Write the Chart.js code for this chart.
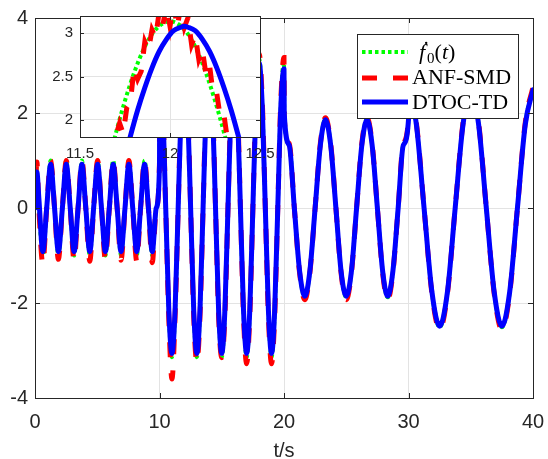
<!DOCTYPE html>
<html><head><meta charset="utf-8">
<script src="https://cdn.jsdelivr.net/npm/chart.js@4/dist/chart.umd.min.js"></script>
<style>
html,body{margin:0;padding:0;background:#fff;}
#wrap{position:relative;width:548px;height:459px;overflow:hidden;background:#fff;}
canvas{position:absolute;left:0;top:0;}
</style></head><body>
<div id="wrap"><canvas id="main" width="548" height="459"></canvas><canvas id="inset" width="548" height="459"></canvas></div>
<script>
// ---------- data ----------
const time = [
  0, 0.15, 0.31, 0.63, 0.94, 1.26, 1.57, 1.88, 2.20, 2.51, 2.83, 3.14, 3.46, 3.77, 4.08, 4.40, 4.71, 5.03, 5.34, 5.65, 5.97, 6.28, 6.60, 6.91, 7.23, 7.54, 7.85, 8.17, 8.48, 8.80, 9.11, 9.42, 9.74, 10.00,
  10.02, 10.25, 10.5, 10.75, 11, 11.25, 11.5, 11.75, 12, 12.25, 12.5, 12.75, 13, 13.25, 13.5, 13.75, 14, 14.25, 14.5, 14.75, 15, 15.25, 15.5, 15.75, 16, 16.25, 16.5, 16.75, 17, 17.25, 17.5, 17.75, 18, 18.25, 18.5, 18.75, 19, 19.25, 19.5, 19.75, 20,
  20.02, 20.42, 20.83, 21.25, 21.67, 22.08, 22.5, 22.92, 23.33, 23.75, 24.17, 24.58, 25.0, 25.42, 25.83, 26.25, 26.67, 27.08, 27.5, 27.92, 28.33, 28.75, 29.17, 29.58, 30.0,
  30.02, 30.63, 31.25, 31.88, 32.5, 33.13, 33.75, 34.38, 35.0, 35.63, 36.25, 36.88, 37.5, 38.13, 38.75, 39.38, 40.0
];
const f0Dot = [
  1, 0.73, 0, -1, 0, 1, 0, -1, 0, 1, 0, -1, 0, 1, 0, -1, 0, 1, 0, -1, 0, 1, 0, -1, 0, 1, 0, -1, 0, 1, 0, -1, 0, 0.96,
  3.13, 2.22, 0, -2.22, -3.14, -2.22, 0, 2.22, 3.14, 2.22, 0, -2.22, -3.14, -2.22, 0, 2.22, 3.14, 2.22, 0, -2.22, -3.14, -2.22, 0, 2.22, 3.14, 2.22, 0, -2.22, -3.14, -2.22, 0, 2.22, 3.14, 2.22, 0, -2.22, -3.14, -2.22, 0, 2.22, 3.14,
  1.88, 1.33, 0, -1.33, -1.88, -1.33, 0, 1.33, 1.88, 1.33, 0, -1.33, -1.88, -1.33, 0, 1.33, 1.88, 1.33, 0, -1.33, -1.88, -1.33, 0, 1.33, 1.88,
  2.51, 1.77, 0, -1.77, -2.51, -1.77, 0, 1.77, 2.51, 1.77, 0, -1.77, -2.51, -1.77, 0, 1.77, 2.51
];
const anfSmd = [
  0.1, 0.97, 0, -1.18, 0, 1.0, 0, -1.08, 0, 1.0, 0, -1.1, 0, 1.0, 0, -1.12, 0, 1.0, 0, -1.08, 0, 1.0, 0, -1.1, 0, 1.0, 0, -1.12, 0, 1.0, 0, -1.15, 0, 0.97,
  3.2, 2.3, 0, -2.35, -3.6, -2.3, 0, 2.3, 3.25, 2.3, 0, -2.3, -3.25, -2.3, 0, 2.3, 3.25, 2.3, 0, -2.3, -3.15, -2.3, 0, 2.3, 3.25, 2.3, 0, -2.3, -3.28, -2.3, 0, 2.3, 3.25, 2.3, 0, -2.3, -3.28, -2.3, 0, 2.3, 3.17,
  1.9, 1.36, 0, -1.36, -1.93, -1.36, 0, 1.36, 1.9, 1.36, 0, -1.36, -1.93, -1.36, 0, 1.36, 1.9, 1.36, 0, -1.36, -1.93, -1.36, 0, 1.36, 1.9,
  2.55, 1.8, 0, -1.8, -2.56, -1.8, 0, 1.8, 2.55, 1.8, 0, -1.8, -2.56, -1.8, 0, 1.8, 2.55
];
const dtocTd = [
  0, 0.76, 0.2, -0.92, 0, 0.92, 0, -0.92, 0, 0.92, 0, -0.92, 0, 0.92, 0, -0.92, 0, 0.92, 0, -0.92, 0, 0.92, 0, -0.92, 0, 0.92, 0, -0.92, 0, 0.92, 0, -0.92, 0, 0.9,
  2.9, 2.16, 0, -2.16, -3.06, -2.16, 0, 2.16, 3.06, 2.16, 0, -2.16, -3.06, -2.16, 0, 2.16, 3.06, 2.16, 0, -2.16, -3.06, -2.16, 0, 2.16, 3.06, 2.16, 0, -2.16, -3.06, -2.16, 0, 2.16, 3.06, 2.16, 0, -2.16, -3.06, -2.16, 0, 2.16, 2.93,
  2.0, 1.32, 0, -1.32, -1.86, -1.32, 0, 1.32, 1.86, 1.32, 0, -1.32, -1.86, -1.32, 0, 1.32, 1.86, 1.32, 0, -1.32, -1.86, -1.32, 0, 1.32, 1.86,
  2.49, 1.76, 0, -1.76, -2.49, -1.76, 0, 1.76, 2.49, 1.76, 0, -1.76, -2.49, -1.76, 0, 1.76, 2.49
];
const xTicks = [0, 10, 20, 30, 40];
const yTicks = [-4, -2, 0, 2, 4];
const xTitle = 't/s';
const legendNames = ['ANF-SMD', 'DTOC-TD'];

// zoomed inset (11.5 s .. 12.5 s)
const insetTimeF0 = [11.60, 11.65, 11.70, 11.75, 11.80, 11.85, 11.90, 11.95, 12.00, 12.05, 12.10, 12.15, 12.20, 12.25, 12.30, 12.35, 12.40];
const insetF0 = [0.97, 1.43, 1.85, 2.22, 2.54, 2.80, 2.99, 3.10, 3.14, 3.10, 2.99, 2.80, 2.54, 2.22, 1.85, 1.43, 0.97];
const insetTimeAnf = [11.60, 11.62, 11.64, 11.66, 11.68, 11.70, 11.72, 11.74, 11.76, 11.78, 11.80, 11.82, 11.84, 11.86, 11.88, 11.90, 11.92, 11.94, 11.96, 11.98, 12.00, 12.02, 12.04, 12.06, 12.08, 12.10, 12.12, 12.14, 12.16, 12.18, 12.20, 12.22, 12.24, 12.26, 12.28, 12.30, 12.32, 12.34, 12.36, 12.38, 12.40];
const insetAnf = [0.93, 0.92, 1.32, 1.30, 1.66, 1.82, 1.96, 1.84, 2.14, 2.20, 2.60, 2.47, 2.56, 2.90, 2.80, 3.04, 2.95, 3.25, 3.09, 3.32, 3.08, 3.34, 3.07, 3.31, 3.07, 3.18, 2.87, 2.98, 2.70, 2.81, 2.52, 2.63, 2.29, 2.30, 2.02, 2.05, 1.76, 1.75, 1.49, 1.31, 1.14];
const insetTimeDtoc = [11.70, 11.74, 11.78, 11.82, 11.86, 11.90, 11.94, 11.98, 12.02, 12.06, 12.08, 12.10, 12.14, 12.18, 12.22, 12.26, 12.30, 12.34, 12.38, 12.42, 12.46];
const insetDtoc = [1.13, 1.48, 1.81, 2.11, 2.37, 2.60, 2.79, 2.93, 3.03, 3.07, 3.08, 3.07, 3.03, 2.93, 2.79, 2.60, 2.37, 2.11, 1.81, 1.48, 1.13];
const insetXTicks = [11.5, 12, 12.5];
const insetYTicks = [2, 2.5, 3];

// ---------- styles ----------
const GREEN = '#00ff00', RED = '#ff0000', BLUE = '#0000ff';
const AX = '#262626', GRID = '#e3e3e3';
const SANS = '"Liberation Sans", Arial, Helvetica, sans-serif';
const SERIF = '"Liberation Serif", "DejaVu Serif", "Times New Roman", serif';
Chart.defaults.font.family = SANS;
Chart.defaults.color = AX;

const pts = (xs, ys) => xs.map((x, i) => ({x, y: ys[i]}));
const styleGreen = {borderColor: GREEN, borderWidth: 4, borderDash: [3.5, 3], borderCapStyle: 'butt'};
const styleRed = {borderColor: RED, borderWidth: 5, borderDash: [15, 16], borderCapStyle: 'butt'};
const styleBlue = {borderColor: BLUE, borderWidth: 5, borderCapStyle: 'round', borderJoinStyle: 'round'};

function frame(chart, xt, yt, len) {
  const {ctx, chartArea: a, scales: {x, y}} = chart;
  ctx.save();
  ctx.strokeStyle = AX; ctx.lineWidth = 1; ctx.setLineDash([]);
  ctx.beginPath();
  xt.forEach(v => { const p = Math.round(x.getPixelForValue(v)) + 0.5;
    ctx.moveTo(p, a.bottom); ctx.lineTo(p, a.bottom - len); ctx.moveTo(p, a.top); ctx.lineTo(p, a.top + len); });
  yt.forEach(v => { const p = Math.round(y.getPixelForValue(v)) + 0.5;
    ctx.moveTo(a.left, p); ctx.lineTo(a.left + len, p); ctx.moveTo(a.right, p); ctx.lineTo(a.right - len, p); });
  ctx.stroke();
  ctx.strokeRect(Math.round(a.left) + 0.5, Math.round(a.top) + 0.5, Math.round(a.right - a.left), Math.round(a.bottom - a.top));
  ctx.restore();
}

const mainDecor = {
  id: 'mainDecor',
  afterDatasetsDraw(chart) {
    frame(chart, xTicks, yTicks, 5);
    const ctx = chart.ctx;
    const bx = 357.5, by = 34.5, bw = 161, bh = 84;
    ctx.save();
    ctx.fillStyle = '#fff'; ctx.fillRect(bx, by, bw, bh);
    ctx.strokeStyle = AX; ctx.lineWidth = 1; ctx.strokeRect(bx, by, bw, bh);
    const rows = [52, 78, 102], bases = [59, 84, 108.5];
    [styleGreen, styleRed, styleBlue].forEach((s, i) => {
      ctx.beginPath();
      ctx.setLineDash(s.borderDash || []);
      ctx.lineWidth = s.borderWidth; ctx.strokeStyle = s.borderColor; ctx.lineCap = 'butt';
      ctx.moveTo(362, rows[i]); ctx.lineTo(408, rows[i]); ctx.stroke();
    });
    ctx.setLineDash([]);
    ctx.fillStyle = '#000'; ctx.textBaseline = 'alphabetic'; ctx.textAlign = 'left';
    // f-dot subscript 0 (t)
    let xx = 419;
    const parts = [['ḟ', 'italic 22px ' + SERIF, 0], ['0', '15px ' + SERIF, 4], ['(', '22px ' + SERIF, 0], ['t', 'italic 22px ' + SERIF, 0], [')', '22px ' + SERIF, 0]];
    parts.forEach(([txt, font, dy]) => { ctx.font = font; ctx.fillText(txt, xx, bases[0] + dy); xx += ctx.measureText(txt).width + (txt === 'ḟ' ? 2 : 0); });
    ctx.font = '22px ' + SERIF;
    ctx.fillText(legendNames[0], 412, bases[1]);
    ctx.fillText(legendNames[1], 412, bases[2]);
    ctx.restore();
  }
};

const tickCb = v => String(v);

new Chart(document.getElementById('main'), {
  type: 'line',
  data: {datasets: [
    Object.assign({label: 'DTOC-TD', data: pts(time, dtocTd), order: 0}, styleBlue),
    Object.assign({label: 'ANF-SMD', data: pts(time, anfSmd), order: 1}, styleRed),
    Object.assign({label: 'f0', data: pts(time, f0Dot), order: 2}, styleGreen)
  ]},
  options: {
    responsive: false, animation: false, devicePixelRatio: 1,
    layout: {padding: {top: 18, right: 15, bottom: 0, left: 0}},
    elements: {point: {radius: 0}, line: {cubicInterpolationMode: 'monotone', fill: false}},
    datasets: {line: {clip: 0}},
    plugins: {legend: {display: false}, tooltip: {enabled: false}},
    scales: {
      x: {type: 'linear', min: 0, max: 40,
        afterBuildTicks: s => { s.ticks = xTicks.map(v => ({value: v})); },
        afterFit: s => { s.height = 61; s.paddingLeft = 0; s.paddingRight = 0; },
        ticks: {font: {size: 20}, color: AX, padding: 12, callback: tickCb, maxRotation: 0, autoSkip: false},
        grid: {color: GRID, drawTicks: false}, border: {display: false},
        title: {display: true, text: xTitle, font: {size: 20, lineHeight: '16px'}, color: AX, padding: 0}},
      y: {type: 'linear', min: -4, max: 4,
        afterBuildTicks: s => { s.ticks = yTicks.map(v => ({value: v})); },
        afterFit: s => { s.width = 35; s.paddingTop = 0; s.paddingBottom = 0; },
        ticks: {font: {size: 20}, color: AX, padding: 7, callback: tickCb, autoSkip: false},
        grid: {color: GRID, drawTicks: false}, border: {display: false}}
    }
  },
  plugins: [mainDecor]
});

const insetDecor = {
  id: 'insetDecor',
  beforeDraw(chart) {
    const {ctx, chartArea: a} = chart;
    ctx.save(); ctx.fillStyle = '#fff'; ctx.fillRect(a.left, a.top, a.right - a.left, a.bottom - a.top); ctx.restore();
  },
  afterDatasetsDraw(chart) { frame(chart, insetXTicks, insetYTicks, 4); }
};

new Chart(document.getElementById('inset'), {
  type: 'line',
  data: {datasets: [
    Object.assign({label: 'DTOC-TD', data: pts(insetTimeDtoc, insetDtoc), order: 0, cubicInterpolationMode: 'monotone'}, styleBlue),
    Object.assign({label: 'ANF-SMD', data: pts(insetTimeAnf, insetAnf), order: 1, tension: 0}, styleRed),
    Object.assign({label: 'f0', data: pts(insetTimeF0, insetF0), order: 2, cubicInterpolationMode: 'monotone'}, styleGreen)
  ]},
  options: {
    responsive: false, animation: false, devicePixelRatio: 1,
    layout: {padding: {top: 16, right: 288, bottom: 292, left: 0}},
    elements: {point: {radius: 0}, line: {fill: false}},
    datasets: {line: {clip: 0}},
    plugins: {legend: {display: false}, tooltip: {enabled: false}},
    scales: {
      x: {type: 'linear', min: 11.5, max: 12.5,
        afterBuildTicks: s => { s.ticks = insetXTicks.map(v => ({value: v})); },
        afterFit: s => { s.height = 30; s.paddingLeft = 0; s.paddingRight = 0; },
        ticks: {font: {size: 15}, color: AX, padding: 8, callback: tickCb, maxRotation: 0, autoSkip: false},
        grid: {color: GRID, drawTicks: false}, border: {display: false}},
      y: {type: 'linear', min: 1.8, max: 3.2,
        afterBuildTicks: s => { s.ticks = insetYTicks.map(v => ({value: v})); },
        afterFit: s => { s.width = 80; s.paddingTop = 0; s.paddingBottom = 0; },
        ticks: {font: {size: 15}, color: AX, padding: 7, callback: tickCb, autoSkip: false},
        grid: {color: GRID, drawTicks: false}, border: {display: false}}
    }
  },
  plugins: [insetDecor]
});
</script></body></html>
